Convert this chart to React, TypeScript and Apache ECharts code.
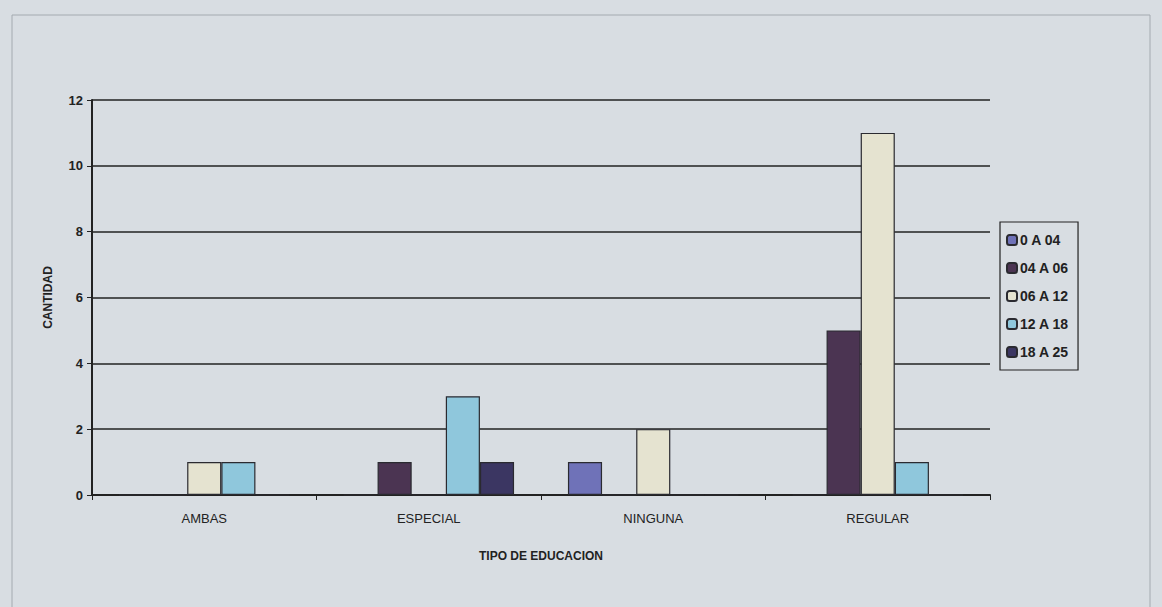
import React, { useEffect, useRef } from "react";
import * as echarts from "echarts";

const categories = ["AMBAS", "ESPECIAL", "NINGUNA", "REGULAR"];
const seriesNames = ["0 A 04", "04 A 06", "06 A 12", "12 A 18", "18 A 25"];
const s0a04 = [0, 0, 1, 0];
const s04a06 = [0, 1, 0, 5];
const s06a12 = [1, 0, 2, 11];
const s12a18 = [1, 3, 0, 1];
const s18a25 = [0, 1, 0, 0];
const seriesValues = [s0a04, s04a06, s06a12, s12a18, s18a25];
const colors = ["#6f72b8", "#4b3452", "#e5e3d0", "#8fc7dc", "#3b3662"];

export default function App() {
  const ref = useRef<HTMLDivElement>(null);
  useEffect(() => {
    document.body.style.margin = "0";
    const chart = echarts.init(ref.current!, null, { renderer: "svg" });
    chart.setOption({
      animation: false,
      backgroundColor: "#d8dde2",
      textStyle: { fontFamily: "Liberation Sans, Arial, sans-serif" },
      graphic: [
        {
          type: "rect",
          shape: { x: 12, y: 15, width: 1138, height: 600 },
          style: { fill: "none", stroke: "#a4aab0", lineWidth: 1 },
          silent: true,
        },
      ],
      legend: {
        orient: "vertical",
        left: 1000,
        top: 222,
        itemWidth: 10,
        itemHeight: 10,
        itemGap: 14,
        padding: [11, 9, 11, 6],
        borderColor: "#222",
        borderWidth: 1.2,
        data: seriesNames,
        textStyle: { fontSize: 14, fontWeight: "bold", color: "#222", padding: [0, 0, 0, -2] },
      },
      grid: { left: 92, right: 172, top: 100, bottom: 112, containLabel: false },
      xAxis: {
        type: "category",
        data: categories,
        name: "TIPO DE EDUCACION",
        nameLocation: "middle",
        nameGap: 55,
        nameTextStyle: { fontSize: 12, fontWeight: "bold", color: "#222" },
        axisLine: { lineStyle: { color: "#222", width: 2 } },
        axisTick: { show: true, length: 5, lineStyle: { color: "#222", width: 1 } },
        axisLabel: { fontSize: 13, color: "#222", margin: 17 },
      },
      yAxis: {
        type: "value",
        min: 0,
        max: 12,
        interval: 2,
        name: "CANTIDAD",
        nameLocation: "middle",
        nameGap: 38,
        nameTextStyle: { fontSize: 12, fontWeight: "bold", color: "#222" },
        axisLine: { show: true, lineStyle: { color: "#222", width: 2 } },
        axisTick: { show: true, length: 5, lineStyle: { color: "#222" } },
        axisLabel: { fontSize: 13, fontWeight: "bold", color: "#222", margin: 9 },
        splitLine: { lineStyle: { color: "#222", width: 1.6 } },
      },
      series: seriesNames.map((name, i) => ({
        name,
        type: "bar",
        data: seriesValues[i],
        barGap: "0%",
        barCategoryGap: "24%",
        itemStyle: { color: colors[i], borderColor: "#2a2a30", borderWidth: 1.2 },
      })),
    });
    return () => chart.dispose();
  }, []);
  return <div ref={ref} style={{ width: 1162, height: 607 }} />;
}
